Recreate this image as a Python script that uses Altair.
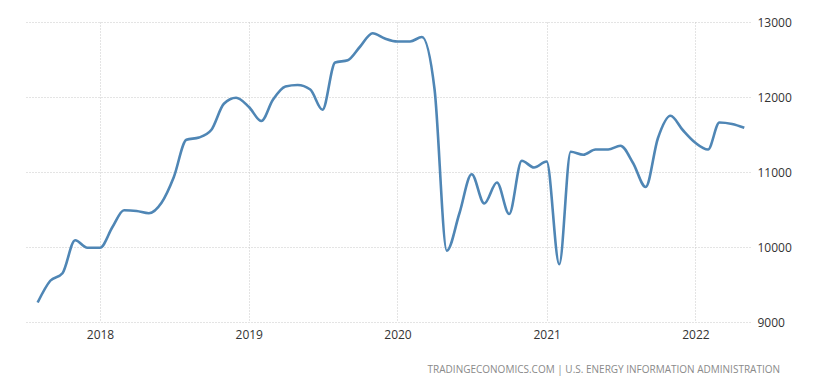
import altair as alt
import pandas as pd

months = pd.date_range("2017-08-01", "2022-05-01", freq="MS").strftime("%Y-%m-%d").tolist()
values = [
    9260, 9550, 9650, 10090, 9990,                                   # 2017 Aug-Dec
    9990, 10270, 10490, 10480, 10450, 10590, 10930, 11430, 11460, 11560, 11910, 11990,  # 2018
    11870, 11680, 11960, 12140, 12160, 12100, 11830, 12460, 12490, 12670, 12850, 12780,  # 2019
    12740, 12740, 12800, 12100, 9950, 10450, 10970, 10580, 10860, 10440, 11150, 11060,    # 2020
    11140, 9770, 11270, 11230, 11300, 11300, 11350, 11120, 10800, 11450, 11750, 11560,    # 2021
    11390, 11300, 11660, 11640, 11590,                                   # 2022 Jan-May
]
year_ticks = ["2018-01-01", "2019-01-01", "2020-01-01", "2021-01-01", "2022-01-01"]
y_ticks = [9000, 10000, 11000, 12000, 13000]
footer = "TRADINGECONOMICS.COM  |  U.S.  ENERGY  INFORMATION  ADMINISTRATION"

df = pd.DataFrame({"date": months, "value": values})

line = alt.Chart(df).mark_line(
    color="#4f86b5", strokeWidth=2.6, interpolate="monotone"
).encode(
    x=alt.X(
        "date:T",
        scale=alt.Scale(domain=["2017-07-01", "2022-05-15"]),
        axis=alt.Axis(
            values=year_ticks, format="%Y", title=None, domain=False, ticks=False,
            grid=True, gridColor="#c8c8c8", gridDash=[1, 2], gridWidth=1,
            labelFont="Open Sans", labelFontSize=12, labelColor="#333333",
            labelPadding=7,
        ),
    ),
    y=alt.Y(
        "value:Q",
        scale=alt.Scale(domain=[9000, 13000], nice=False, zero=False),
        axis=alt.Axis(
            orient="right", values=y_ticks, format="d", title=None, domain=False,
            ticks=False, grid=True, gridColor="#c8c8c8", gridDash=[1, 2], gridWidth=1,
            labelFont="Open Sans", labelFontSize=12, labelColor="#333333",
            labelPadding=7,
        ),
    ),
)

foot = alt.Chart(pd.DataFrame({"t": [footer]})).mark_text(
    align="right", baseline="middle", font="Open Sans", fontSize=10, color="#8a8a8a"
).encode(
    text="t:N",
    x=alt.value(755),
    y=alt.value(348),
)

chart = alt.layer(line, foot).properties(
    width=725, height=300, background="white",
    padding={"left": 17, "top": 8, "right": 5, "bottom": 5},
).configure_view(stroke=None, strokeWidth=0)

chart.save("out.html", embed_options={"renderer": "svg", "actions": False})
